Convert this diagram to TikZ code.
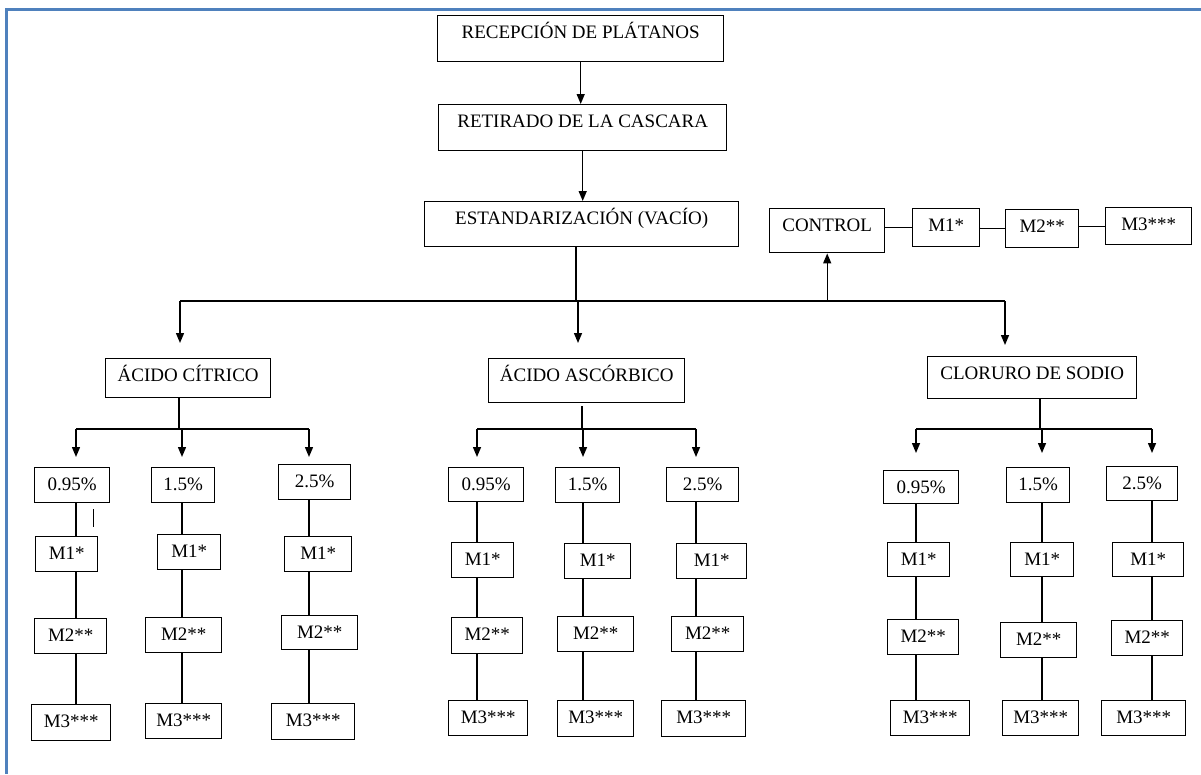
\documentclass[tikz,border=0pt]{standalone}
\usepackage{fontspec}
\setmainfont{Liberation Serif}
\usetikzlibrary{arrows.meta}
\tikzset{every picture/.style={line width=1.4pt}}
\definecolor{frameblue}{RGB}{79,129,189}
\tikzset{
  box/.style={draw, anchor=north west, inner sep=0pt, font=\fontsize{19}{21}\selectfont, text height=23pt, text depth=#1},
  box/.default=23pt,
  tip/.style={-{Triangle[length=10pt,width=8pt]}},
}

\begin{document}
\begin{tikzpicture}[x=1pt,y=1pt,yscale=-1,xscale=1]
\path[use as bounding box] (0,0) rectangle (1201,774);

%Shape: Frame
\draw [frameblue, line width=3pt] (1201,9) -- (6.5,9) -- (6.5,774);

% Text Node
\node [box, minimum width=286pt] (recep) at (437,15) {RECEPCIÓN DE PLÁTANOS};
% Text Node
\node [box, minimum width=288pt] (retir) at (438,104) {RETIRADO DE LA CASCARA};
% Text Node
\node [box=22pt, minimum width=314pt] (estand) at (424,201) {ESTANDARIZACIÓN (VACÍO)};
% Text Node
\node [box=21pt, minimum width=115pt] (control) at (769,208) {CONTROL};
% Text Node
\node [box=15pt, minimum width=67pt] (ctrla) at (912,208) {M1*};
% Text Node
\node [box=15pt, minimum width=73pt] (ctrlb) at (1005,209) {M2**};
% Text Node
\node [box=14pt, minimum width=86pt] (ctrlc) at (1105,207) {M3***};
% Text Node
\node [box=16pt, minimum width=165pt] (citrico) at (105,358) {ÁCIDO CÍTRICO};
% Text Node
\node [box=21pt, minimum width=196pt] (ascorb) at (488,358) {ÁCIDO ASCÓRBICO};
% Text Node
\node [box=19pt, minimum width=209pt] (cloruro) at (927,356) {CLORURO DE SODIO};

%Straight Lines
\draw [tip] (recep.south) -- (recep.south |- retir.north);
\draw [tip] (retir.south) -- (retir.south |- estand.north);
\draw (control.east |- ctrla.west) -- (ctrla.west);
\draw (ctrla.east) -- (ctrlb.west -| ctrla.east) -- (ctrlb.west);
\draw (ctrlb.east |- ctrlc.west) -- (ctrlc.west);

%Straight Lines
\coordinate (hub) at (576,301);
\coordinate (tocit) at (180,343);
\coordinate (toasc) at (578,343);
\coordinate (toclo) at (1005,345);
\draw (estand.south -| hub) -- (hub);
\draw (tocit |- hub) -- (toclo |- hub);
\draw [tip] (tocit |- hub) -- (tocit);
\draw [tip] (toasc |- hub) -- (toasc);
\draw [tip] (toclo |- hub) -- (toclo);
\draw [tip] (control.south |- hub) -- (control.south);

%Shape: Rectangle -- citrico
\node [box=12pt, minimum width=75pt] (c1p) at (34,467) {0.95\%};
\node [box=12pt, minimum width=62pt] (c1a) at (35,536) {M1*};
\node [box=12pt, minimum width=72pt] (c1b) at (34,618) {M2**};
\node [box=13pt, minimum width=79pt] (c1c) at (31,704) {M3***};
\node [box=12pt, minimum width=63pt] (c2p) at (151,467) {1.5\%};
\node [box=12pt, minimum width=63pt] (c2a) at (157,534) {M1*};
\node [box=12pt, minimum width=76pt] (c2b) at (145,617) {M2**};
\node [box=12pt, minimum width=76pt] (c2c) at (145,703) {M3***};
\node [box=12pt, minimum width=72pt] (c3p) at (278,464) {2.5\%};
\node [box=12pt, minimum width=67pt] (c3a) at (284,536) {M1*};
\node [box=11pt, minimum width=76pt] (c3b) at (281,615) {M2**};
\node [box=13pt, minimum width=83pt] (c3c) at (271,703) {M3***};

%Shape: Rectangle -- ascorbico
\node [box=11pt, minimum width=75pt] (a1p) at (448,467) {0.95\%};
\node [box=12pt, minimum width=62pt] (a1a) at (451,542) {M1*};
\node [box=13pt, minimum width=71pt] (a1b) at (451,617) {M2**};
\node [box=12pt, minimum width=79pt] (a1c) at (448,700) {M3***};
\node [box=12pt, minimum width=64pt] (a2p) at (555,467) {1.5\%};
\node [box=12pt, minimum width=66pt] (a2a) at (564,543) {M1*};
\node [box=12pt, minimum width=76pt] (a2b) at (557,616) {M2**};
\node [box=13pt, minimum width=76pt] (a2c) at (557,700) {M3***};
\node [box=11pt, minimum width=72pt] (a3p) at (666,467) {2.5\%};
\node [box=12pt, minimum width=70pt] (a3a) at (676,543) {M1*};
\node [box=12pt, minimum width=72pt] (a3b) at (671,616) {M2**};
\node [box=13pt, minimum width=84pt] (a3c) at (661,700) {M3***};

%Shape: Rectangle -- cloruro
\node [box=10pt, minimum width=75pt] (k1p) at (883,470) {0.95\%};
\node [box=11pt, minimum width=62pt] (k1a) at (887,542) {M1*};
\node [box=12pt, minimum width=71pt] (k1b) at (887,619) {M2**};
\node [box=12pt, minimum width=79pt] (k1c) at (890,700) {M3***};
\node [box=12pt, minimum width=63pt] (k2p) at (1006,467) {1.5\%};
\node [box=11pt, minimum width=63pt] (k2a) at (1010,542) {M1*};
\node [box=12pt, minimum width=76pt] (k2b) at (1000,622) {M2**};
\node [box=12pt, minimum width=76pt] (k2c) at (1002,700) {M3***};
\node [box=11pt, minimum width=71pt] (k3p) at (1106,466) {2.5\%};
\node [box=11pt, minimum width=71pt] (k3a) at (1112,542) {M1*};
\node [box=12pt, minimum width=71pt] (k3b) at (1111,620) {M2**};
\node [box=12pt, minimum width=84pt] (k3c) at (1101,700) {M3***};

%Straight Lines -- citrico branch
\coordinate (cithub) at (179,429);
\coordinate (c1) at (76,457);
\coordinate (c2) at (182,457);
\coordinate (c3) at (309,457);
\draw (cithub |- citrico.south) -- (cithub);
\draw (c1 |- cithub) -- (c3 |- cithub);
\draw [tip] (c1 |- cithub) -- (c1);
\draw [tip] (c2 |- cithub) -- (c2);
\draw [tip] (c3 |- cithub) -- (c3);
\draw (c1p.south -| c1) -- (c1a.north -| c1);
\draw (c1a.south -| c1) -- (c1b.north -| c1);
\draw (c1b.south -| c1) -- (c1c.north -| c1);
\draw (c2p.south -| c2) -- (c2a.north -| c2);
\draw (c2a.south -| c2) -- (c2b.north -| c2);
\draw (c2b.south -| c2) -- (c2c.north -| c2);
\draw (c3p.south -| c3) -- (c3a.north -| c3);
\draw (c3a.south -| c3) -- (c3b.north -| c3);
\draw (c3b.south -| c3) -- (c3c.north -| c3);
\draw ([xshift=21.5pt,yshift=6pt]c1p.south) -- ++(0,18);

%Straight Lines -- ascorbico branch
\coordinate (aschub) at (582,429);
\coordinate (a1) at (477,457);
\coordinate (a2) at (583,457);
\coordinate (a3) at (696,457);
\draw [shorten <=3pt] (aschub |- ascorb.south) -- (aschub);
\draw (a1 |- aschub) -- (a3 |- aschub);
\draw [tip] (a1 |- aschub) -- (a1);
\draw [tip] (a2 |- aschub) -- (a2);
\draw [tip] (a3 |- aschub) -- (a3);
\draw (a1p.south -| a1) -- (a1a.north -| a1);
\draw (a1a.south -| a1) -- (a1b.north -| a1);
\draw (a1b.south -| a1) -- (a1c.north -| a1);
\draw (a2p.south -| a2) -- (a2a.north -| a2);
\draw (a2a.south -| a2) -- (a2b.north -| a2);
\draw (a2b.south -| a2) -- (a2c.north -| a2);
\draw (a3p.south -| a3) -- (a3a.north -| a3);
\draw (a3a.south -| a3) -- (a3b.north -| a3);
\draw (a3b.south -| a3) -- (a3c.north -| a3);

%Straight Lines -- cloruro branch
\coordinate (clohub) at (1040,429);
\coordinate (k1) at (916,453);
\coordinate (k2) at (1042,453);
\coordinate (k3) at (1152,453);
\draw (clohub |- cloruro.south) -- (clohub);
\draw (k1 |- clohub) -- (k3 |- clohub);
\draw [tip] (k1 |- clohub) -- (k1);
\draw [tip] (k2 |- clohub) -- (k2);
\draw [tip] (k3 |- clohub) -- (k3);
\draw (k1p.south -| k1) -- (k1a.north -| k1);
\draw (k1a.south -| k1) -- (k1b.north -| k1);
\draw (k1b.south -| k1) -- (k1c.north -| k1);
\draw (k2p.south -| k2) -- (k2a.north -| k2);
\draw (k2a.south -| k2) -- (k2b.north -| k2);
\draw (k2b.south -| k2) -- (k2c.north -| k2);
\draw (k3p.south -| k3) -- (k3a.north -| k3);
\draw (k3a.south -| k3) -- (k3b.north -| k3);
\draw (k3b.south -| k3) -- (k3c.north -| k3);

\end{tikzpicture}
\end{document}
